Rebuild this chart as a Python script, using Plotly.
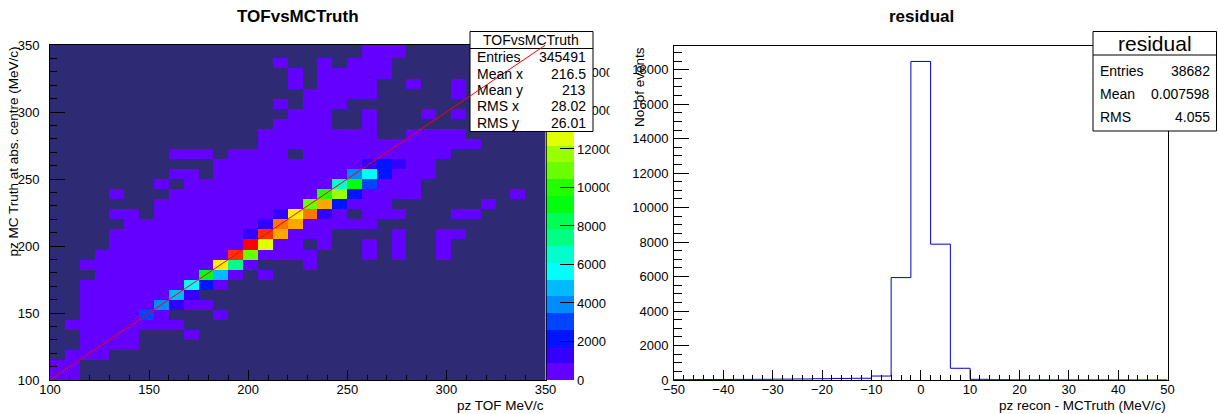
import colorsys
import plotly.graph_objects as go

W, H = 1218, 414

# ---------------- left panel: 2D histogram TOF vs MC truth ----------------
bin_width = 7.5          # MeV/c
first_centre = 103.75    # centre of the first bin on both axes
n_bins = 34
low_count = 300          # estimated content of the faint (violet) bins

# faint bins per y-bin row (row 0 = bottom), listed as x-bin indices
low_rows = {
    0: [0, 1],
    1: [0, 1],
    2: [1, 2, 3],
    3: [2, 3, 4, 5],
    4: [2, 3, 4, 5, 9],
    5: [1, 2, 3, 4, 5, 6, 7, 8],
    6: [2, 3, 4, 5, 7, 11],
    7: [2, 3, 4, 5, 6, 9, 10],
    8: [2, 3, 4, 5, 6, 7],
    9: [2, 3, 4, 5, 6, 7, 8, 11],
    10: [3, 4, 5, 6, 7, 8, 9, 12, 14],
    11: [2, 3, 4, 5, 6, 7, 8, 9, 10, 13, 17],
    12: [3, 4, 5, 6, 7, 8, 9, 10, 11, 14, 15, 16, 17, 21, 23, 26],
    13: [4, 5, 6, 7, 8, 9, 10, 11, 12, 15, 16, 18, 21, 23, 26],
    14: [4, 5, 6, 7, 8, 9, 10, 11, 12, 16, 17, 18, 23, 26, 27],
    15: [5, 6, 7, 8, 9, 10, 11, 12, 13, 17, 18, 19, 20, 21],
    16: [4, 5, 7, 8, 9, 10, 11, 12, 13, 14, 19, 21, 22, 23, 27, 28],
    17: [7, 8, 9, 10, 11, 12, 13, 14, 15, 16, 20, 21, 22, 29],
    18: [4, 8, 9, 10, 11, 12, 13, 14, 15, 16, 17, 21, 22, 23, 24, 31],
    19: [7, 9, 10, 11, 12, 13, 14, 15, 16, 17, 18, 22, 23, 24],
    20: [8, 9, 11, 12, 13, 14, 15, 16, 17, 18, 19, 23, 24, 25],
    21: [11, 12, 13, 14, 15, 16, 17, 18, 19, 20, 24, 25],
    22: [8, 9, 10, 12, 13, 14, 15, 17, 18, 19, 20, 21, 22, 23, 24, 25, 26],
    23: [14, 15, 16, 17, 18, 19, 20, 21, 22, 23, 24, 25, 26, 27, 28],
    24: [14, 15, 16, 17, 18, 19, 20, 21, 24, 25, 26, 27],
    25: [15, 16, 17, 18, 21],
    26: [16, 17, 18, 21, 25, 27],
    27: [15, 17, 18, 19],
    28: [17, 18, 19, 20, 21, 27],
    29: [16, 18, 19, 20, 21, 24, 27],
    30: [16, 18, 19, 20, 21, 22],
    31: [15, 18, 20, 21, 22],
    32: [21, 22, 23],
    33: [21, 22, 23],
}

# bright bins along the diagonal: (x-bin, y-bin, estimated content)
peak_cells = [
    (6, 6, 3000), (7, 7, 4000), (8, 7, 1300), (8, 8, 4800), (9, 8, 1300),
    (9, 9, 5600), (10, 9, 2200), (11, 9, 600), (10, 10, 9100), (11, 10, 4800),
    (11, 11, 13500), (12, 11, 7400), (12, 12, 16100), (13, 12, 11000),
    (13, 13, 17400), (14, 13, 12600), (13, 14, 1300), (14, 14, 16000),
    (15, 14, 14300), (14, 15, 1300), (15, 15, 15200), (16, 15, 14400),
    (15, 16, 1300), (16, 16, 13400), (17, 16, 15000), (18, 16, 1200),
    (17, 17, 11200), (18, 17, 14200), (19, 17, 2100), (18, 18, 10000),
    (19, 18, 11800), (20, 18, 2000), (19, 19, 6500), (20, 19, 9500),
    (21, 19, 3000), (20, 20, 4200), (21, 20, 5600), (22, 20, 2000),
    (21, 21, 1200), (22, 21, 2000), (23, 21, 1300),
]
z_max = 17400
n_levels = 20
palette_ticks = [0, 2000, 4000, 6000, 8000, 10000, 12000, 14000, 16000]

stats_left_names = ["Entries", "Mean x", "Mean y", "RMS x", "RMS y"]
stats_left_values = ["345491", "216.5", "213", "28.02", "26.01"]
fit_x = [100, 350]
fit_y = [100, 350]

# ---------------- right panel: residual histogram ----------------
res_edges = [-50 + 4 * i for i in range(26)]
res_counts = [20, 25, 30, 35, 40, 50, 60, 75, 90, 100, 230, 5940, 18480,
              7880, 680, 40, 15, 10, 8, 6, 5, 5, 4, 4, 3]
res_ymax = 19404
stats_right_names = ["Entries", "Mean", "RMS"]
stats_right_values = ["38682", "0.007598", "4.055"]

# ---------------- helpers ----------------
def fx(px):
    return px / W


def fy(py):
    return 1 - py / H


def root_colour(level):
    p = int((level + 0.99) * 50 / n_levels)
    hue = max(0.0, 280 - (p + 1) * 5.6)
    r, g, b = colorsys.hls_to_rgb(hue / 360.0, 0.5, 1.0)
    return "rgb(%d,%d,%d)" % (round(r * 255), round(g * 255), round(b * 255))


colourscale = []
for lv in range(n_levels):
    c = root_colour(lv)
    colourscale.append([lv / n_levels, c])
    colourscale.append([(lv + 1) / n_levels, c])

z = [[None] * n_bins for _ in range(n_bins)]
for iy, cols in low_rows.items():
    for ix in cols:
        z[iy][ix] = low_count
for ix, iy, c in peak_cells:
    z[iy][ix] = c

FONT = "Liberation Sans, Arial, Helvetica, sans-serif"
NAVY = "#2e2a74"

fig = go.Figure()
fig.add_trace(go.Heatmap(
    z=z, x0=first_centre, dx=bin_width, y0=first_centre, dy=bin_width,
    zmin=0, zmax=z_max, colorscale=colourscale, showscale=False,
    xaxis="x", yaxis="y", hoverongaps=False,
))

# palette drawn as its own little heatmap
dz = z_max / n_levels
pal_vals = [(i + 0.5) * dz for i in range(n_levels)]
fig.add_trace(go.Heatmap(
    z=[[v] for v in pal_vals], x=[0], y=pal_vals,
    zmin=0, zmax=z_max, colorscale=colourscale, showscale=False,
    xaxis="x3", yaxis="y3",
))

# residual histogram outline
fig.add_trace(go.Scatter(
    x=res_edges, y=res_counts + [res_counts[-1]], mode="lines",
    line=dict(color="#0000c8", width=1, shape="hv"),
    xaxis="x2", yaxis="y2", showlegend=False,
))

axis_common = dict(showgrid=False, zeroline=False, showline=True, linecolor="black",
                   linewidth=1, mirror=True, ticks="inside", tickcolor="black",
                   automargin=False,
                   tickfont=dict(family=FONT, size=13, color="black"))

fig.update_layout(
    width=W, height=H, margin=dict(l=0, r=0, t=0, b=0, pad=0, autoexpand=False),
    paper_bgcolor="white", plot_bgcolor="white", showlegend=False,
    xaxis=dict(domain=[fx(50), fx(545.5)], range=[100, 350], tick0=100, dtick=50,
               ticklen=10, minor=dict(dtick=10, ticks="inside", ticklen=5, tickcolor="black"),
               anchor="y", ticklabelstandoff=-3, **axis_common),
    yaxis=dict(domain=[fy(380), fy(45)], range=[100, 350], tick0=100, dtick=50,
               ticklen=15, minor=dict(dtick=10, ticks="inside", ticklen=7, tickcolor="black"),
               anchor="x", ticklabelstandoff=7, **axis_common),
    xaxis2=dict(domain=[fx(674), fx(1167.5)], range=[-50, 50], tick0=-50, dtick=10,
                ticklen=10, minor=dict(dtick=2, ticks="inside", ticklen=5, tickcolor="black"),
                anchor="y2", ticklabelstandoff=-3, **axis_common),
    yaxis2=dict(domain=[fy(380), fy(45.5)], range=[0, res_ymax], tick0=0, dtick=2000,
                tickformat="d", ticklen=15,
                minor=dict(dtick=500, ticks="inside", ticklen=8, tickcolor="black"),
                anchor="x2", ticklabelstandoff=2, **axis_common),
    xaxis3=dict(domain=[fx(546.5), fx(574)], range=[-0.5, 0.5], showticklabels=False,
                showgrid=False, zeroline=False, showline=False, ticks="", anchor="y3",
                automargin=False),
    yaxis3=dict(domain=[fy(380), fy(45)], range=[0, z_max], side="right",
                tickvals=palette_ticks, tickformat="d", ticks="inside", ticklen=14,
                tickcolor="black", showgrid=False, zeroline=False, showline=False,
                tickfont=dict(family=FONT, size=13, color="black"),
                anchor="x3", ticklabelstandoff=2, automargin=False),
)

shapes = []
# navy frame fill of the 2D plot
shapes.append(dict(type="rect", xref="x domain", yref="y domain", x0=0, x1=1, y0=0, y1=1,
                   fillcolor=NAVY, line=dict(width=0), layer="below"))
# clip palette labels at pad edge
shapes.append(dict(type="rect", xref="paper", yref="paper", x0=fx(609.5), x1=fx(617),
                   y0=fy(400), y1=fy(30), fillcolor="white", line=dict(width=0), layer="above"))
# left stats box
shapes.append(dict(type="rect", xref="paper", yref="paper", x0=fx(470), x1=fx(593),
                   y0=fy(131.5), y1=fy(31.5), fillcolor="white",
                   line=dict(color="black", width=1), layer="above"))
shapes.append(dict(type="line", xref="paper", yref="paper", x0=fx(470), x1=fx(593),
                   y0=fy(48.5), y1=fy(48.5), line=dict(color="black", width=1), layer="above"))
# right stats box
shapes.append(dict(type="rect", xref="paper", yref="paper", x0=fx(1093), x1=fx(1216.5),
                   y0=fy(131), y1=fy(31.5), fillcolor="white",
                   line=dict(color="black", width=1), layer="above"))
shapes.append(dict(type="line", xref="paper", yref="paper", x0=fx(1093), x1=fx(1216.5),
                   y0=fy(55), y1=fy(55), line=dict(color="black", width=1), layer="above"))
# red y = x line drawn last (over the stats box)
shapes.append(dict(type="line", xref="x", yref="y", x0=fit_x[0], y0=fit_y[0],
                   x1=fit_x[1], y1=fit_y[1], line=dict(color="red", width=1), layer="above"))
fig.update_layout(shapes=shapes)

ann = []


def text(s, x, y, size=13, xa="center", ya="middle", angle=0):
    ann.append(dict(text=s, x=fx(x), y=fy(y), xref="paper", yref="paper",
                    xanchor=xa, yanchor=ya, showarrow=False, textangle=angle,
                    font=dict(family=FONT, size=size, color="black")))


text("<b>TOFvsMCTruth</b>", 298, 17, size=17)
text("<b>residual</b>", 921, 17, size=17)
text("pz TOF MeV/c", 545.5, 405, size=13.5, xa="right")
text("pz MC Truth at abs. centre (MeV/c)", 12.5, 45, size=13.5, ya="top", angle=-90)
text("pz recon - MCTruth (MeV/c)", 1167.5, 405, size=13.5, xa="right")
text("No. of events", 639, 45, size=13.5, ya="top", angle=-90)

text("TOFvsMCTruth", 531, 40.5, size=14)
for i, (n, v) in enumerate(zip(stats_left_names, stats_left_values)):
    yy = 57.3 + i * 16.35
    text(n, 475, yy, size=14, xa="left")
    text(v, 588, yy, size=14, xa="right")

text("residual", 1155, 43.5, size=21)
for i, (n, v) in enumerate(zip(stats_right_names, stats_right_values)):
    yy = 70.7 + i * 23.3
    text(n, 1098, yy, size=14, xa="left")
    text(v, 1212, yy, size=14, xa="right")

fig.update_layout(annotations=ann)
fig.write_html("out.html")
